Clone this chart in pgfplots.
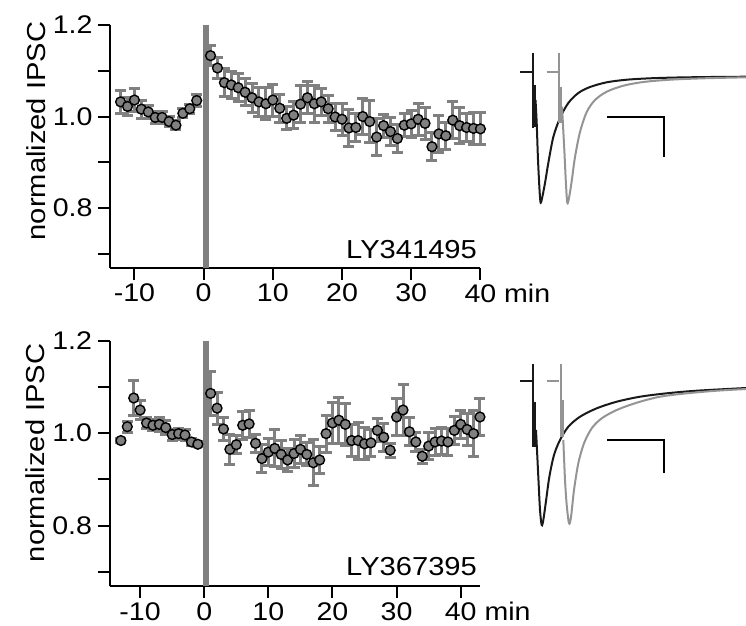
\documentclass[border=0pt]{standalone}
\usepackage{pgfplots}
\usepackage{pgfplotstable}
\pgfplotsset{compat=1.18}
\usepackage{fontspec}
\setmainfont{Liberation Sans}[FakeStretch=1.12]

\definecolor{bargray}{RGB}{128,128,128}
\definecolor{tracegray}{RGB}{148,148,148}
\definecolor{traceblack}{RGB}{25,25,25}

% LY341495: time (min), normalized IPSC, s.e.m.
\pgfplotstableread{
x y e
-12 1.032 0.025
-11 1.022 0.020
-10 1.036 0.025
-9 1.016 0.020
-8 1.010 0.014
-7 0.998 0.013
-6 0.998 0.013
-5 0.989 0.011
-4 0.981 0.010
-3 1.007 0.010
-2 1.017 0.010
-1 1.035 0.013
1 1.133 0.022
2 1.106 0.022
3 1.074 0.030
4 1.069 0.030
5 1.063 0.030
6 1.053 0.030
7 1.041 0.032
8 1.032 0.032
9 1.028 0.035
10 1.036 0.035
11 1.018 0.030
12 0.996 0.025
13 1.003 0.030
14 1.027 0.040
15 1.041 0.035
16 1.028 0.040
17 1.032 0.030
18 1.017 0.030
19 0.999 0.030
20 0.994 0.035
21 0.975 0.040
22 0.976 0.030
23 1.000 0.040
24 0.989 0.045
25 0.955 0.040
26 0.980 0.025
27 0.967 0.030
28 0.952 0.030
29 0.981 0.025
30 0.984 0.030
31 0.994 0.035
32 0.985 0.035
33 0.934 0.030
34 0.962 0.040
35 0.958 0.030
36 0.992 0.040
37 0.980 0.040
38 0.976 0.030
39 0.974 0.035
40 0.973 0.035
}\topdata

% LY367395
\pgfplotstableread{
x y e
-13 0.984 0.005
-12 1.014 0.012
-11 1.076 0.038
-10 1.050 0.020
-9 1.022 0.012
-8 1.017 0.012
-7 1.019 0.015
-6 1.012 0.015
-5 0.997 0.012
-4 0.999 0.012
-3 0.996 0.012
-2 0.981 0.008
-1 0.976 0.005
1 1.086 0.048
2 1.054 0.035
3 1.009 0.025
4 0.965 0.032
5 0.975 0.020
6 1.017 0.030
7 1.020 0.030
8 0.978 0.020
9 0.945 0.030
10 0.959 0.030
11 0.967 0.040
12 0.954 0.030
13 0.942 0.025
14 0.956 0.030
15 0.965 0.030
16 0.954 0.025
17 0.936 0.050
18 0.942 0.030
19 0.999 0.040
20 1.022 0.045
21 1.028 0.050
22 1.019 0.045
23 0.984 0.035
24 0.984 0.040
25 0.977 0.035
26 0.979 0.030
27 1.006 0.025
28 0.991 0.030
29 0.963 0.015
30 1.035 0.040
31 1.050 0.055
32 1.003 0.030
33 0.981 0.020
34 0.950 0.015
35 0.972 0.030
36 0.981 0.030
37 0.983 0.030
38 0.981 0.030
39 1.006 0.030
40 1.019 0.030
41 1.008 0.035
42 0.999 0.050
43 1.035 0.040
}\botdata

\pgfplotsset{
  panel/.style={
    scale only axis, anchor=south west,
    axis lines*=left,
    axis line style={black, line width=2pt},
    enlargelimits=false, clip=false,
    ymin=0.670, ymax=1.2,
    ytick={0.7,0.8,...,1.2},
    yticklabels={,0.8,,1.0,,1.2},
    xtick={-10,0,10,20,30,40},
    xticklabels={-10,0,10,20,30,40\rlap{ min}},
    tick align=outside,
    major tick length=12pt,
    tick style={black, line width=2pt},
    tick label style={font=\fontsize{25.5}{30}\selectfont},
    yticklabel style={xshift=-2pt},
    xticklabel style={yshift=-1pt},
  },
  errs/.style={only marks, mark=none,
    error bars/.cd, y dir=both, y explicit,
    error bar style={bargray, line width=3pt},
    error mark options={bargray, line width=3pt, mark size=5.5pt, rotate=90}},
  dots/.style={only marks, mark=*, mark size=4.9pt,
    mark options={fill=bargray, draw=black, line width=1.4pt}},
}

\begin{document}
\begin{tikzpicture}
\path[use as bounding box] (0,0) rectangle (746pt,625pt);

% top panel
\begin{axis}[panel, at={(110pt,357.5pt)}, width=370.4pt, height=242.5pt,
  xmin=-13.53, xmax=40]
  \addplot[errs] table[x=x, y=y, y error=e] {\topdata};
  \addplot[dots] table[x=x, y=y] {\topdata};
  \addplot[bargray, line width=5.6pt] coordinates {(0.35,0.670) (0.35,1.2)};
  \node[anchor=base east, font=\fontsize{26}{30}\selectfont] at ([yshift=9pt]rel axis cs:1,0) {LY341495};
  \node[rotate=90, anchor=base, font=\fontsize{26}{30}\selectfont] at ([xshift=-65pt]rel axis cs:0,0.563) {normalized IPSC};
\end{axis}

% bottom panel
\begin{axis}[panel, at={(109.6pt,39.3pt)}, width=370.8pt, height=245pt,
  xmin=-14.76, xmax=43.07]
  \addplot[errs] table[x=x, y=y, y error=e] {\botdata};
  \addplot[dots] table[x=x, y=y] {\botdata};
  \addplot[bargray, line width=5.6pt] coordinates {(0.3,0.670) (0.3,1.2)};
  \node[anchor=base east, font=\fontsize{26}{30}\selectfont] at ([yshift=10pt]rel axis cs:1,0) {LY367395};
  \node[rotate=90, anchor=base, font=\fontsize{26}{30}\selectfont] at ([xshift=-65pt]rel axis cs:0,0.542) {normalized IPSC};
\end{axis}

% example traces, in picture pixel coordinates
\begin{axis}[scale only axis, anchor=south west, at={(0pt,0pt)},
  width=746pt, height=625pt, xmin=0, xmax=746, ymin=0, ymax=625,
  y dir=reverse, hide axis, clip=false]
  % top: black (control)
  \addplot[traceblack, line width=2pt] coordinates {(520,72.3) (532.7,72.3)};
  \addplot[traceblack, line width=1.8pt] coordinates {(532.7,52.7) (532.7,128.3)};
  \addplot[traceblack, line width=2.5pt] coordinates {(534.3,85) (534.3,127)};
  \addplot[traceblack, line width=2pt, smooth] coordinates {
    (535.5,100) (536.7,123) (538,160) (539.7,193) (540.7,202.7) (542.3,197)
    (545,183) (548.3,163) (553.3,137) (560,118) (568.3,103) (578.3,93)
    (590,87) (606.7,82.3) (626.7,79.7) (650,78.3) (676.7,77.5) (710,77) (746,76.7)};
  % top: gray (drug)
  \addplot[tracegray, line width=2pt] coordinates {(546.7,72.3) (558.3,72.3)};
  \addplot[tracegray, line width=1.8pt] coordinates {(559.3,52.7) (559.3,123.3)};
  \addplot[tracegray, line width=2.5pt] coordinates {(560.8,86.7) (560.8,123.3)};
  \addplot[tracegray, line width=2pt, smooth] coordinates {
    (562,106.7) (564.3,150) (566,185) (567.3,202.7) (569,198) (571.7,181)
    (575,157) (580,132) (586.7,112) (595,100) (606.7,91.7) (623.3,85.7)
    (643.3,82) (670,79.7) (703.3,78.3) (746,77.3)};
  \addplot[black, line width=2pt] coordinates {(607.3,116.7) (664,116.7) (664,156.7)};
  % bottom: black (control)
  \addplot[traceblack, line width=2pt] coordinates {(520,380.7) (532.7,380.7)};
  \addplot[traceblack, line width=1.8pt] coordinates {(533.3,364) (533.3,447.3)};
  \addplot[traceblack, line width=2.5pt] coordinates {(535,401.7) (535,446.7)};
  \addplot[traceblack, line width=2pt, smooth] coordinates {
    (536,430) (538.3,476.7) (540,510) (541.7,525) (543.3,520) (546,501)
    (549.3,477) (554,455) (560,440) (568.3,426.7) (580,416.7) (596.7,408.3)
    (616.7,401.7) (640,396.7) (666.7,393.3) (696.7,390.7) (746,388)};
  % bottom: gray (drug)
  \addplot[tracegray, line width=2pt] coordinates {(546.7,380.7) (559.3,380.7)};
  \addplot[tracegray, line width=1.8pt] coordinates {(560.7,364) (560.7,436.7)};
  \addplot[tracegray, line width=2.5pt] coordinates {(562.3,400) (562.3,436.7)};
  \addplot[tracegray, line width=2pt, smooth] coordinates {
    (563.3,440) (565,480) (566.7,505) (569,523.3) (571,517) (574,490)
    (578.3,463.3) (584,443.3) (591.7,428.3) (601.7,418.3) (616.7,410)
    (636.7,402.7) (660,396.7) (686.7,393.3) (716.7,390.7) (746,389)};
  \addplot[black, line width=2pt] coordinates {(607.3,440) (664,440) (664,473.3)};
\end{axis}
\end{tikzpicture}
\end{document}
